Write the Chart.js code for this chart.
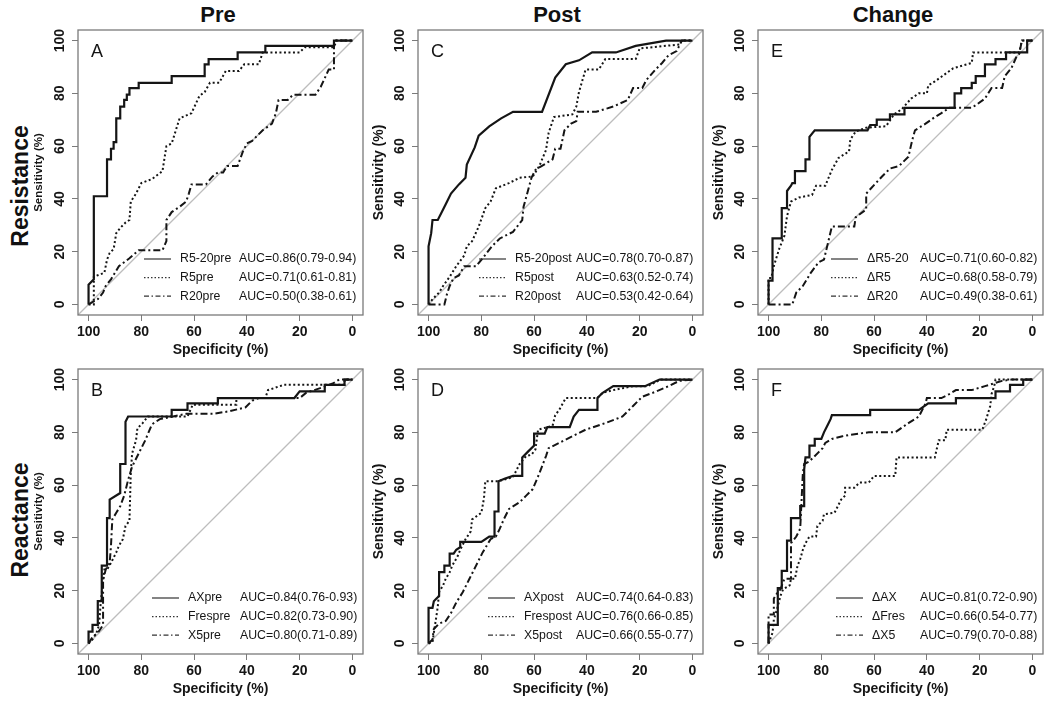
<!DOCTYPE html>
<html>
<head>
<meta charset="utf-8">
<script src="https://cdn.jsdelivr.net/npm/chart.js@4.4.1/dist/chart.umd.min.js"></script>
<style>
  body { margin: 0; background: #fff; width: 1050px; height: 702px; position: relative; overflow: hidden;
         font-family: "Liberation Sans", Arial, sans-serif; color: #111; }
  .panel { position: absolute; width: 346px; height: 341px; }
  .title { position: absolute; font-weight: bold; font-size: 22px; transform: translate(-50%, -50%); white-space: nowrap; }
  .rowlab { position: absolute; font-weight: bold; font-size: 23px; transform: translate(-50%, -50%) rotate(-90deg); white-space: nowrap; }
</style>
</head>
<body>
<div class="title" style="left:218px; top:15px">Pre</div>
<div class="title" style="left:557px; top:15px">Post</div>
<div class="title" style="left:893px; top:15px">Change</div>
<div class="rowlab" style="left:20px; top:186px">Resistance</div>
<div class="rowlab" style="left:20px; top:520px">Reactance</div>

<div class="panel" style="left:22px; top:20px"><canvas id="pA"></canvas></div>
<div class="panel" style="left:22px; top:359px"><canvas id="pB"></canvas></div>
<div class="panel" style="left:362px; top:20px"><canvas id="pC"></canvas></div>
<div class="panel" style="left:362px; top:359px"><canvas id="pD"></canvas></div>
<div class="panel" style="left:702px; top:20px"><canvas id="pE"></canvas></div>
<div class="panel" style="left:702px; top:359px"><canvas id="pF"></canvas></div>

<script>
// ROC curves: [specificity %, sensitivity %]
const preR520 = [[100,0],[100,7.5],[98,9.5],[98,41],[93,41],[93,55],[91.5,55],[91.5,59],[90.5,59],[90.5,61.5],[89.5,61.5],[89.5,70.5],[88,70.5],[88,75],[86.5,75],[86.5,77.5],[85.5,77.5],[85.5,79.5],[84.5,79.5],[84.5,82],[81,82],[81,84],[68.5,84],[68.5,86.5],[56,86.5],[56,91],[54.5,91],[54.5,93],[43.5,93],[43.5,95.5],[33,95.5],[33,98],[7,98],[7,100],[0,100]];
const preR5 = [[100,0],[98,0],[98,10.5],[94,12],[93,17],[92,19.5],[90.5,21],[89.5,27],[88,29],[86,31],[84.5,32],[84,39],[82,42],[80,46],[76,47.5],[72,50.5],[70.5,60],[68.5,61],[65.5,70.5],[61,72.5],[58,79],[56,80.5],[54,84],[50.5,84],[48,88.5],[43,88.5],[41,91],[35.5,91],[34,95.5],[20,95.5],[18,97.5],[7,97.5],[6,100],[0,100]];
const preR20 = [[100,0],[96.5,2],[94.5,4.5],[93.5,7],[91.5,9.5],[88.5,14.5],[84.5,17.5],[81,20.5],[72,20.5],[70.5,24],[70.5,32],[68.5,35],[65.5,37],[63,39],[62,42],[61,45.5],[55.5,45.5],[53,48.5],[51,50],[49,50],[47.5,52.5],[43.5,52.5],[41.5,58],[40,61],[38,62],[34,66],[30.5,68.5],[29,72.5],[28,77.5],[24.5,77.5],[22.5,79.5],[14,79.5],[12,82.5],[9,89],[7,89],[7,100],[0,100]];

const postR520 = [[100,0],[100,22],[99,27],[98.5,32],[96.5,32],[94.5,36],[93.5,38],[91.5,42],[88.5,45.5],[86,48],[85.5,53],[82.5,59.5],[81,64],[77,67.5],[72.5,70.5],[68,73],[57,73],[52,86],[48,91],[43,92.5],[38,95.5],[29,95.5],[21.5,98],[10,100],[0,100]];
const postR5 = [[100,0],[98.5,2],[96,4.5],[94.5,7],[92,10.5],[89.5,14.5],[86.5,18.5],[85.5,22],[83.5,24],[81,29.5],[78.5,36.5],[76.5,39],[74.5,44],[69.5,46],[65.5,48],[60.5,48.5],[58,52.5],[55.5,58.5],[54.5,65],[52.5,71],[45.5,72],[44,75],[43,80.5],[40.5,89],[35.5,89],[33,93],[21.5,93],[20,97],[5,98.5],[4,100],[0,100]];
const postR20 = [[100,0],[94,0],[93,4],[92,7],[90.5,10],[88.5,11],[86.5,14.5],[82,14.5],[79.5,17.5],[76,22],[73,25],[68,27.5],[64.5,32],[64,37],[61,48],[59.5,51],[53,55],[52,59],[50,59],[48.5,66],[46,68.5],[44,69.5],[43.5,73],[36.5,73],[30,75],[24.5,77.5],[22.5,82],[19,82],[17.5,85],[14,89],[11.5,91.5],[9,94.5],[6,96],[4,100],[0,100]];

const chgR520 = [[100,0],[100,9],[98.5,9],[98.5,25],[95,25],[95,36.5],[93,36.5],[93,43],[91.5,45],[91,46],[90,46],[90,50.5],[86,50.5],[86,55],[84.5,55],[84.5,63.5],[82.5,66],[62.5,66],[61.5,68],[59,68],[59,70],[54,70],[54,72],[48.5,72],[48.5,74.5],[29.5,74.5],[29.5,80],[27,80],[27,82],[23,82],[23,84],[21.5,84],[21.5,86.5],[18,86.5],[18,91],[14,91],[14,93],[10,93],[10,95.5],[2,95.5],[2,100],[0,100]];
const chgR5 = [[100,0],[100,10],[99,10],[98,14.5],[96,21],[94,26],[93,33.5],[91.5,39],[88.5,40.5],[83.5,41.5],[82,45],[78.5,45],[76,51],[73.5,55.5],[69.5,58],[69,62.5],[67,65.5],[63,67],[55.5,67.5],[52.5,72],[49.5,74],[46,78],[43,80],[40,80],[39.5,83],[37,84.5],[33.5,87],[30,89.5],[23,91.5],[22.5,95.5],[5,95.5],[4,100],[0,100]];
const chgR20 = [[100,0],[91,0],[89.5,4.5],[87,7],[84,12],[81,16],[79,17],[76,29.5],[67.5,29.5],[67,33],[63,36],[63,42],[57,48.5],[54,51.5],[50.5,52.5],[47,56],[45.5,62.5],[44.5,66],[40.5,68.5],[37,71],[34.5,72.5],[31.5,74.5],[23,74.5],[21.5,75.5],[18,78],[15.5,82],[11.5,82],[10.5,86.5],[8,89.5],[6,94],[5,95],[4,100],[0,100]];

const preAX = [[100,0],[100,4.5],[98.5,4.5],[98.5,7],[96.5,7],[96.5,16],[95,16],[95,29.5],[93,29.5],[93,47.5],[92,47.5],[92,54.5],[88,57],[88,68],[86,68],[86,84],[85,86],[68.5,86],[68.5,88.5],[62.5,88.5],[62.5,91],[51,91],[51,93],[22,93],[20,95.5],[10.5,95.5],[10.5,98],[3,98],[3,100],[0,100]];
const preFres = [[100,0],[98.5,1.5],[97,4],[96,7],[95.5,14],[94.5,24],[94,28],[93,28],[91.5,30.5],[89.5,34.5],[88.5,37],[87,39.5],[86,44.5],[84.5,46.5],[84,64.5],[83.5,72],[82,77],[81.5,81.5],[79.5,83.5],[77.5,86],[62.5,86],[60.5,90.5],[44,90.5],[44,93],[33,93],[32,96],[26,98],[3,98],[3,100],[0,100]];
const preX5 = [[100,0],[98.5,2.5],[96.5,4],[95.5,5.5],[94.5,7],[94.5,24],[93.5,28],[92,30.5],[91.5,37],[91,47],[89.5,49.5],[88,52],[86.5,56],[85,62],[83.5,67],[81,72],[78.5,77],[76,83],[73,85],[68,86],[63,87],[53,87],[46.5,88],[40.5,89.5],[38,92],[35.5,93],[20,93],[17.5,95],[10,97.5],[7.5,98.5],[5,100],[0,100]];

const postAX = [[100,0],[100,13.5],[98.5,13.5],[98,16],[97,17],[96,18],[96,27],[94,27],[94,29.5],[92,29.5],[92,34],[90.5,34],[89.5,35.5],[88,36.5],[88,38.5],[80,38.5],[77,40.5],[75,40.5],[75,50],[73.5,50],[73.5,61.5],[71,62.5],[68,63.5],[64.5,63.5],[64.5,70.5],[62.5,72.5],[60,75],[60,79.5],[56,79.5],[55,82],[46.5,82],[45,86],[43,88.5],[36,88.5],[36,93],[34,95],[30,97.5],[18,97.5],[12.5,100],[0,100]];
const postFres = [[100,0],[98.5,0.5],[98,4],[97,10.5],[96.5,14],[96,19.5],[94.5,22],[93.5,24.5],[92,27],[91,29.5],[89,33],[88,35.5],[86,39.5],[84,42.5],[83.5,47],[80,49.5],[79,55],[78.5,61.5],[74,61.5],[71.5,62],[68,63],[65.5,68],[63,71],[61,71.5],[59.5,73.5],[58.5,81],[53,82.5],[52,86.5],[50.5,88.5],[48,93],[36,93],[34,95],[30,96],[22.5,97.5],[17,97.5],[12,100],[0,100]];
const postX5 = [[100,0],[98.5,1.5],[98,5.5],[96,7.5],[93.5,8.5],[91.5,11.5],[89.5,15.5],[87,19.5],[84.5,24.5],[82,29.5],[79.5,34.5],[76.5,39.5],[74.5,40.5],[73,43.5],[71.5,47],[69.5,51],[65.5,53.5],[63,56],[60.5,58.5],[58,64.5],[55.5,71],[54.5,74],[50.5,76],[45.5,78.5],[40.5,81],[33,83.5],[26.5,86],[22.5,90],[19,93.5],[15,95],[9,97.5],[5,99.5],[0,100]];

const chgAX = [[100,0],[100,7],[96.5,7],[96.5,21],[95,21],[95,27.5],[93,27.5],[93,39],[91.5,39],[91.5,47.5],[88,47.5],[88,52],[86.5,52],[86.5,66],[86,70.5],[84.5,70.5],[84.5,75],[82.5,75],[82.5,77.5],[80,77.5],[79,80],[77.5,83],[76.5,85],[76,86.5],[61.5,86.5],[61.5,88.5],[43,88.5],[39.5,91],[29,91],[29,93],[14,93],[14,95.5],[8.5,95.5],[8.5,98],[3.5,98],[3.5,100],[0,100]];
const chgFres = [[100,0],[98.5,4],[98,9],[96.5,14],[95.5,18],[94.5,20.5],[92,22],[91.5,24.5],[90,24.5],[89,29.5],[88,32],[87,35.5],[86,38],[84.5,40.5],[82,40.5],[81.5,44.5],[79.5,46.5],[79,49],[75,49.5],[74,51.5],[72.5,54.5],[71,56],[71,59],[67.5,59],[65.5,61],[62,61],[60,63.5],[52,63.5],[51.5,70.5],[37,70.5],[35.5,77],[33,77],[32.5,81],[19,81],[17.5,85],[16,90],[15.5,94.5],[14.5,97.5],[14,100],[0,100]];
const chgX5 = [[100,0],[100,11],[98,11],[98,17],[96.5,19.5],[95.5,20.5],[94,24.5],[91.5,24.5],[91.5,38],[89.5,40.5],[88,43.5],[87,64.5],[86.5,68],[84.5,69],[81,72.5],[79.5,74],[78.5,76],[76,77.5],[72,78.5],[69.5,79],[62,80],[52,80],[47,83.5],[43,86],[40.5,91],[40,93],[34.5,93],[31.5,94.5],[29,96],[23,96],[18,97.5],[11.5,99.5],[8,100],[0,100]];

const namesA = ['R5-20pre', 'R5pre', 'R20pre'];
const aucA = ['AUC=0.86(0.79-0.94)', 'AUC=0.71(0.61-0.81)', 'AUC=0.50(0.38-0.61)'];
const namesC = ['R5-20post', 'R5post', 'R20post'];
const aucC = ['AUC=0.78(0.70-0.87)', 'AUC=0.63(0.52-0.74)', 'AUC=0.53(0.42-0.64)'];
const namesE = ['\u0394R5-20', '\u0394R5', '\u0394R20'];
const aucE = ['AUC=0.71(0.60-0.82)', 'AUC=0.68(0.58-0.79)', 'AUC=0.49(0.38-0.61)'];
const namesB = ['AXpre', 'Frespre', 'X5pre'];
const aucB = ['AUC=0.84(0.76-0.93)', 'AUC=0.82(0.73-0.90)', 'AUC=0.80(0.71-0.89)'];
const namesD = ['AXpost', 'Frespost', 'X5post'];
const aucD = ['AUC=0.74(0.64-0.83)', 'AUC=0.76(0.66-0.85)', 'AUC=0.66(0.55-0.77)'];
const namesF = ['\u0394AX', '\u0394Fres', '\u0394X5'];
const aucF = ['AUC=0.81(0.72-0.90)', 'AUC=0.66(0.54-0.77)', 'AUC=0.79(0.70-0.88)'];

const axisTicks = [0, 20, 40, 60, 80, 100];
const chanceLine = [[104, -4], [-4, 104]];

const FONT = '"Liberation Sans", Arial, sans-serif';
const INK = '#151515';
const styles = [
  { borderWidth: 2.2, borderDash: [] },
  { borderWidth: 2, borderDash: [2, 2.5] },
  { borderWidth: 2, borderDash: [7, 3, 2, 3] },
];

const rocDecor = {
  id: 'rocDecor',
  afterDraw(chart) {
    const o = chart.options.plugins.rocDecor;
    const { ctx, chartArea: a } = chart;
    ctx.save();
    ctx.strokeStyle = '#7a7a7a';
    ctx.lineWidth = 1.3;
    ctx.setLineDash([]);
    ctx.strokeRect(a.left, a.top, a.right - a.left, a.bottom - a.top);

    ctx.fillStyle = INK;
    ctx.textBaseline = 'middle';
    ctx.textAlign = 'left';
    ctx.font = '18px ' + FONT;
    ctx.fillText(o.letter, a.left + 13, a.top + 22);

    ctx.font = '12.3px ' + FONT;
    o.names.forEach((name, i) => {
      const y = a.bottom - 56 + i * 18.6;
      const nx = a.left + o.nameX;
      ctx.strokeStyle = '#333';
      ctx.lineWidth = 1.2;
      ctx.setLineDash(i === 0 ? [] : (i === 1 ? [1.5, 2] : [5, 2.5, 1.5, 2.5]));
      ctx.beginPath();
      ctx.moveTo(nx - 36, y);
      ctx.lineTo(nx - 9, y);
      ctx.stroke();
      ctx.fillText(name, nx, y);
      ctx.fillText(o.auc[i], a.left + o.aucX, y);
    });
    ctx.restore();
  }
};

function toXY(arr) {
  return arr.map(p => ({ x: p[0], y: p[1] }));
}

function makePanel(id, letter, series, names, auc, nameX, aucX, yTitleFont) {
  const datasets = series.map((s, i) => ({
    data: toXY(s),
    borderColor: INK,
    borderWidth: styles[i].borderWidth,
    borderDash: styles[i].borderDash,
    pointRadius: 0,
    tension: 0,
    fill: false,
  }));
  datasets.push({
    data: toXY(chanceLine),
    borderColor: '#bdbdbd',
    borderWidth: 1.3,
    pointRadius: 0,
    fill: false,
  });

  const setTicks = scale => { scale.ticks = axisTicks.map(v => ({ value: v })); };

  new Chart(document.getElementById(id), {
    type: 'line',
    data: { datasets },
    options: {
      responsive: true,
      maintainAspectRatio: false,
      animation: false,
      layout: { padding: { top: 10, right: 5, left: 0, bottom: 0 } },
      plugins: {
        legend: { display: false },
        tooltip: { enabled: false },
        rocDecor: { letter, names, auc, nameX, aucX },
      },
      scales: {
        x: {
          type: 'linear',
          reverse: true,
          min: -4,
          max: 104,
          afterBuildTicks: setTicks,
          afterFit: s => { s.height = 46; },
          border: { display: false },
          grid: { drawOnChartArea: false, drawTicks: true, tickLength: 6, color: '#7a7a7a' },
          ticks: { color: INK, padding: 3, font: { family: FONT, size: 14, weight: 'bold' } },
          title: { display: true, text: 'Specificity (%)', color: INK, padding: { top: 0, bottom: 2 },
                   font: { family: FONT, size: 14, weight: 'bold' } },
        },
        y: {
          type: 'linear',
          min: -4,
          max: 104,
          afterBuildTicks: setTicks,
          afterFit: s => { s.width = 56; },
          border: { display: false },
          grid: { drawOnChartArea: false, drawTicks: true, tickLength: 6, color: '#7a7a7a' },
          ticks: { color: INK, padding: 0, minRotation: 90, maxRotation: 90, crossAlign: 'center',
                   font: { family: FONT, size: 14, weight: 'bold' } },
          title: { display: true, text: 'Sensitivity (%)', color: INK,
                   padding: { top: yTitleFont.pad, bottom: 0 },
                   font: { family: FONT, size: yTitleFont.size, weight: 'bold' } },
        },
      },
    },
    plugins: [rocDecor],
  });
}

const bigTitle = { size: 14, pad: 9 };
const smallTitle = { size: 11.5, pad: 10 };

makePanel('pA', 'A', [preR520, preR5, preR20], namesA, aucA, 102, 161, smallTitle);
makePanel('pC', 'C', [postR520, postR5, postR20], namesC, aucC, 97, 158, bigTitle);
makePanel('pE', 'E', [chgR520, chgR5, chgR20], namesE, aucE, 109, 162, bigTitle);
makePanel('pB', 'B', [preAX, preFres, preX5], namesB, aucB, 110, 162, smallTitle);
makePanel('pD', 'D', [postAX, postFres, postX5], namesD, aucD, 106, 158, bigTitle);
makePanel('pF', 'F', [chgAX, chgFres, chgX5], namesF, aucF, 114, 162, bigTitle);
</script>
</body>
</html>
